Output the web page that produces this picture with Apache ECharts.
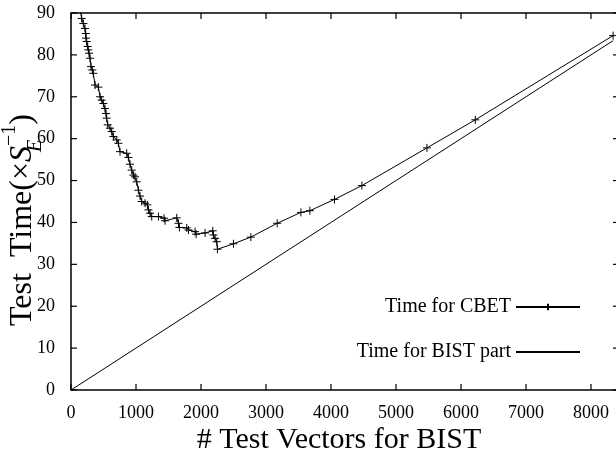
<!DOCTYPE html>
<html>
<head>
<meta charset="utf-8">
<script src="https://cdn.jsdelivr.net/npm/echarts@6/dist/echarts.min.js"></script>
<style>
  html, body { margin: 0; padding: 0; background: #fff; }
  #chart { width: 616px; height: 453px; }
</style>
</head>
<body>
<div id="chart"></div>
<script>
'use strict';

// Time for CBET (vectors, time)
const cbetVectors = [
    130, 164, 190, 215, 226, 231, 241, 257, 267, 277, 293, 308, 328, 343, 370,
    421, 447, 472, 498, 523, 539, 549, 565, 600, 626, 652, 703, 729, 754, 857,
    883, 908, 934, 960, 985, 1011, 1037, 1062, 1088, 1139, 1175, 1191, 1216, 1242,
    1345, 1432, 1447, 1627, 1653, 1668, 1781, 1807, 1909, 1925, 2063, 2181, 2191,
    2217, 2243, 2253, 2499, 2767, 3172, 3537, 3675, 4054, 4475, 5476, 6220, 8340
];
const cbetTime = [
    91.5, 88.7, 87.5, 86.3, 85.1, 84.0, 83.2, 82.0, 81.2, 80.4, 79.2, 77.2, 76.4, 75.6, 72.8,
    72.3, 70.0, 69.2, 68.4, 67.2, 66.0, 64.9, 63.3, 62.5, 61.7, 60.5, 59.7, 58.9, 56.9, 56.5,
    55.5, 53.9, 52.5, 51.3, 50.9, 49.7, 47.7, 46.3, 45.0, 44.6, 44.2, 43.0, 42.2, 41.4,
    41.4, 41.0, 40.4, 41.1, 39.8, 38.8, 38.7, 38.2, 37.8, 37.2, 37.5, 38.0, 37.0,
    36.2, 35.4, 33.6, 34.9, 36.5, 39.8, 42.4, 42.8, 45.5, 48.8, 57.8, 64.5, 84.6
];

// Time for BIST part (straight line)
const bistVectors = [0, 8340];
const bistTime = [0, 83.4];

// tick positions
const xTicks = [0, 1000, 2000, 3000, 4000, 5000, 6000, 7000, 8000];
const yTicks = [0, 10, 20, 30, 40, 50, 60, 70, 80, 90];

const xMin = 0, xMax = 8400, xStep = 1000;
const yMin = 0, yMax = 90, yStep = 10;

const serif = 'Liberation Serif';
const plus = 'path://M0,5L10,5M5,0L5,10';

const zip = (xs, ys) => xs.map((x, i) => [x, ys[i]]);

/*
 * gnuplot style ticks, inward on all four sides. Drawn as thin rect markers
 * placed through the chart's own scales and nudged inside the frame.
 */
const tickSeries = (name, data, size, offset) => ({
    name,
    type: 'scatter',
    data,
    symbol: 'rect',
    symbolSize: size,
    symbolOffset: offset,
    itemStyle: { color: '#000', opacity: 1 },
    silent: true,
    clip: false,
    z: 5
});

const chart = echarts.init(document.getElementById('chart'));

chart.setOption({
    animation: false,
    backgroundColor: '#fff',
    grid: {
        left: 71, top: 13, right: -1, bottom: 63,
        containLabel: false, outerBoundsMode: 'none',
        show: true, borderColor: '#000', borderWidth: 1.5, backgroundColor: 'transparent'
    },
    xAxis: {
        type: 'value', min: xMin, max: xMax, interval: xStep,
        splitLine: { show: false },
        axisLine: { show: false },
        axisTick: { show: false },
        axisLabel: {
            color: '#000', fontFamily: serif, fontSize: 18, margin: 14,
            showMaxLabel: false,
            formatter: (v) => (v <= 8000 ? String(v) : '')
        }
    },
    yAxis: {
        type: 'value', min: yMin, max: yMax, interval: yStep,
        splitLine: { show: false },
        axisLine: { show: false },
        axisTick: { show: false },
        axisLabel: { color: '#000', fontFamily: serif, fontSize: 18, margin: 16 }
    },
    legend: [{
        data: ['Time for CBET'],
        right: 30, top: 292, align: 'right',
        itemWidth: 64, itemHeight: 8,
        textStyle: { color: '#000', fontFamily: serif, fontSize: 20 }
    }, {
        data: [{
            name: 'Time for BIST part',
            itemStyle: { color: 'rgba(0,0,0,0)', borderWidth: 0, opacity: 0 }
        }],
        right: 30, top: 337, align: 'right',
        itemWidth: 64, itemHeight: 8,
        textStyle: { color: '#000', fontFamily: serif, fontSize: 20 }
    }],
    graphic: [{
        type: 'text',
        x: 339, y: 440,
        style: {
            text: '# Test Vectors for BIST',
            align: 'center', verticalAlign: 'middle',
            fill: '#000', fontFamily: serif, fontSize: 30
        }
    }, {
        type: 'text',
        x: 23, y: 220,
        rotation: Math.PI / 2,
        style: {
            text: '{n|Test  Time(×}{s|S}{sub|E}{sup|−1}{n|)}',
            align: 'center', verticalAlign: 'middle',
            fill: '#000',
            rich: {
                n: { fontFamily: serif, fontSize: 32, lineHeight: 48, verticalAlign: 'middle' },
                s: { fontFamily: serif, fontSize: 32, fontStyle: 'italic', lineHeight: 48, verticalAlign: 'middle' },
                sub: { fontFamily: serif, fontSize: 20, fontStyle: 'italic', width: 0, verticalAlign: 'bottom', padding: [0, 0, 1, 0] },
                sup: { fontFamily: serif, fontSize: 20, verticalAlign: 'top', padding: [1, 0, 0, 0] }
            }
        }
    }],
    series: [{
        name: 'Time for CBET',
        type: 'line',
        data: zip(cbetVectors, cbetTime),
        symbol: plus, symbolSize: 8,
        showSymbol: true,
        lineStyle: { color: '#000', width: 1 },
        itemStyle: { color: '#000', borderColor: '#000', borderWidth: 1 },
        clip: true
    }, {
        name: 'Time for BIST part',
        type: 'line',
        data: zip(bistVectors, bistTime),
        symbol: 'none',
        lineStyle: { color: '#000', width: 1 },
        itemStyle: { color: '#000' },
        clip: true
    },
    tickSeries('tick-bottom', xTicks.map((v) => [v, yMin]), [1.2, 6], [0, -3]),
    tickSeries('tick-top', xTicks.map((v) => [v, yMax]), [1.2, 6], [0, 3]),
    tickSeries('tick-left', yTicks.map((v) => [xMin, v]), [6, 1.2], [3, 0]),
    tickSeries('tick-right', yTicks.map((v) => [xMax, v]), [4, 1.2], [-2, 0])
    ]
});
</script>
</body>
</html>
